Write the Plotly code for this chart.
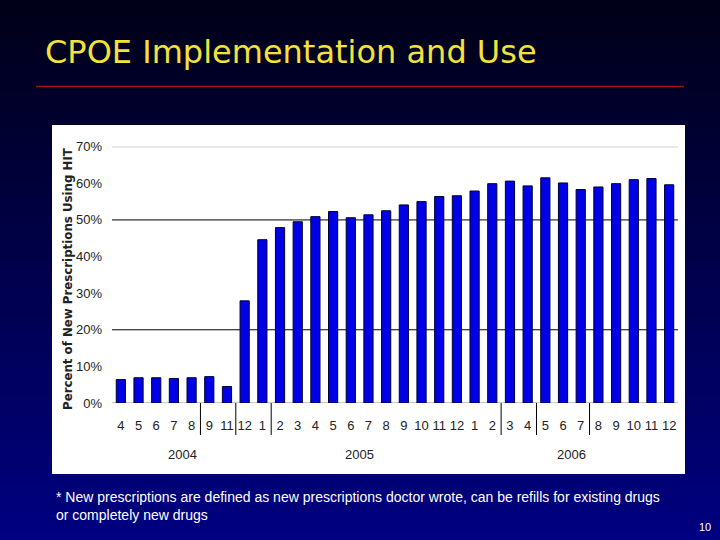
import plotly.graph_objects as go

# ---- data ----
month_labels = ["4", "5", "6", "7", "8", "9", "11", "12",
                "1", "2", "3", "4", "5", "6", "7", "8", "9", "10", "11", "12",
                "1", "2", "3", "4", "5", "6", "7", "8", "9", "10", "11", "12"]
percent_hit = [6.4, 6.9, 6.9, 6.7, 6.9, 7.2, 4.5, 27.9,
               44.6, 47.9, 49.5, 50.9, 52.3, 50.6, 51.4, 52.5, 54.1, 55.0, 56.4, 56.6,
               57.9, 59.9, 60.6, 59.3, 61.5, 60.1, 58.3, 59.0, 59.9, 61.0, 61.3, 59.6]
years = ["2004", "2005", "2006"]
year_spans = [(0, 7), (8, 19), (20, 31)]
separators_after = [4, 6, 8, 21, 23, 26]
y_ticks = [0, 10, 20, 30, 40, 50, 60, 70]
y_tick_text = ["0%", "10%", "20%", "30%", "40%", "50%", "60%", "70%"]

W, H = 720, 540
def px_x(v):
    return v / W
def px_y(v):
    return (H - v) / H

x_idx = list(range(len(month_labels)))
tick_font_family = "Liberation Sans Narrow, Arial Narrow, Liberation Sans, Arial"

fig = go.Figure()
fig.add_trace(go.Bar(
    x=x_idx, y=percent_hit,
    marker=dict(color="#0000E6", line=dict(color="#000033", width=1)),
    width=0.52,
    hoverinfo="skip",
))

shapes = []
# gradient background
n = 60
for i in range(n):
    t = i / (n - 1)
    b = int(24 + (128 - 24) * t)
    shapes.append(dict(type="rect", xref="paper", yref="paper",
                       x0=0, x1=1, y0=1 - (i + 1) / n, y1=1 - i / n,
                       fillcolor=f"rgb(0,0,{b})", line=dict(width=0), layer="below"))
# red rule under title
shapes.append(dict(type="line", xref="paper", yref="paper",
                   x0=px_x(36), x1=px_x(684), y0=px_y(86.5), y1=px_y(86.5),
                   line=dict(color="#A01818", width=1.5), layer="below"))
# white chart box
shapes.append(dict(type="rect", xref="paper", yref="paper",
                   x0=px_x(52), x1=px_x(685), y0=px_y(474), y1=px_y(125),
                   fillcolor="white", line=dict(width=0), layer="below"))
# gridlines
for yv, col in [(70, "#8C8C8C"), (50, "#000000"), (20, "#000000"), (0, "#8C8C8C")]:
    shapes.append(dict(type="line", xref="x domain", yref="y",
                       x0=0, x1=1, y0=yv, y1=yv,
                       line=dict(color=col, width=1), layer="below"))
# category separators
for s in separators_after:
    shapes.append(dict(type="line", xref="x", yref="paper",
                       x0=s + 0.5, x1=s + 0.5, y0=px_y(435), y1=px_y(403),
                       line=dict(color="#000000", width=1)))

annotations = [
    dict(text="CPOE Implementation and Use", xref="paper", yref="paper",
         x=px_x(43), y=px_y(52), xanchor="left", yanchor="middle", showarrow=False,
         font=dict(family="DejaVu Sans", size=32, color="#F2E23A")),
    dict(text="Percent of New Prescriptions Using HIT", xref="paper", yref="paper",
         x=px_x(68), y=px_y(279), textangle=-90, xanchor="center", yanchor="middle",
         showarrow=False,
         font=dict(family="DejaVu Sans", size=11.8, color="#222222", weight="bold")),
    dict(text="* New prescriptions are defined as new prescriptions doctor wrote, can be refills for existing drugs<br>or completely new drugs",
         xref="paper", yref="paper", x=px_x(54), y=px_y(487), xanchor="left", yanchor="top",
         align="left", showarrow=False,
         font=dict(family="Liberation Sans, Arial", size=14, color="white")),
    dict(text="10", xref="paper", yref="paper", x=px_x(713), y=px_y(527),
         xanchor="right", yanchor="middle", showarrow=False,
         font=dict(family="Liberation Sans, Arial", size=11, color="white")),
]
for yr, (a, b) in zip(years, year_spans):
    annotations.append(dict(text=yr, xref="x", yref="paper", x=(a + b) / 2, y=px_y(454),
                            xanchor="center", yanchor="middle", showarrow=False,
                            font=dict(family=tick_font_family, size=13, color="#222222")))

fig.update_layout(
    width=W, height=H,
    margin=dict(l=0, r=0, t=0, b=0, pad=0, autoexpand=False),
    paper_bgcolor="#000030",
    plot_bgcolor="rgba(0,0,0,0)",
    showlegend=False,
    shapes=shapes,
    annotations=annotations,
    xaxis=dict(domain=[px_x(112), px_x(678)], range=[-0.5, 31.5],
               tickmode="array", tickvals=x_idx, ticktext=month_labels,
               showgrid=False, zeroline=False, showline=False, ticks="",
               ticklabelstandoff=13, automargin=False,
               tickfont=dict(family=tick_font_family, size=13, color="#222222"),
               fixedrange=True),
    yaxis=dict(domain=[px_y(403), px_y(146.7)], range=[0, 70],
               tickmode="array", tickvals=y_ticks, ticktext=y_tick_text,
               showgrid=False, zeroline=False, showline=False, ticks="",
               ticklabelstandoff=9, automargin=False,
               tickfont=dict(family=tick_font_family, size=13, color="#222222"),
               fixedrange=True),
)

fig.write_html("out.html", config={"displayModeBar": False},
               post_script="document.body.style.margin='0';document.body.style.overflow='hidden';")
